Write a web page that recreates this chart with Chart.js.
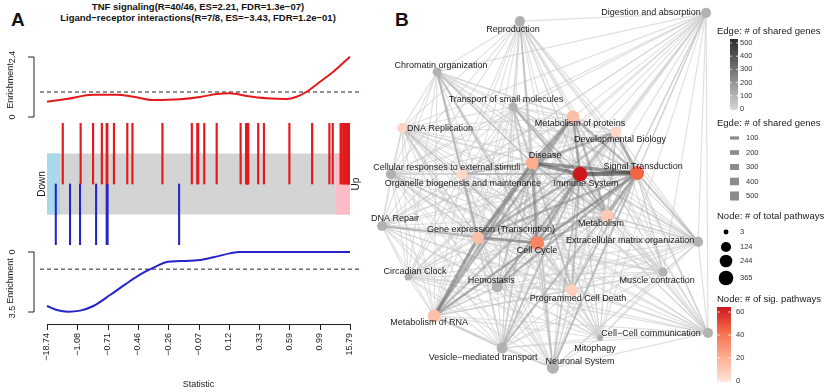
<!DOCTYPE html>
<html>
<head>
<meta charset="utf-8">
<script src="https://cdn.jsdelivr.net/npm/chart.js@4.4.1/dist/chart.umd.min.js"></script>
<style>
    body { margin: 0; background: #fff; width: 824px; height: 392px; position: relative; overflow: hidden; font-family: "Liberation Sans", Arial, sans-serif; }
    canvas, .txt { position: absolute; }
    .txt { white-space: nowrap; color: #111; }
    .tag { font-size: 19px; font-weight: bold; line-height: 19px; }
    .title { left: 0; width: 396px; text-align: center; font-size: 9.5px; font-weight: bold; line-height: 11px; }
</style>
</head>
<body>
<div class="txt tag" style="left:11px; top:10px;">A</div>
<div class="txt tag" style="left:395px; top:10px;">B</div>
<div class="txt title" style="top:1px;">TNF signaling(R=40/46, ES=2.21, FDR=1.3e−07)</div>
<div class="txt title" style="top:12px;">Ligand−receptor interactions(R=7/8, ES=−3.43, FDR=1.2e−01)</div>
<canvas id="up-es" width="370" height="85" style="left:0; top:45px;"></canvas>
<canvas id="hits" width="370" height="132" style="left:0; top:118px;"></canvas>
<canvas id="down-es" width="370" height="147" style="left:0; top:245px;"></canvas>
<canvas id="network" width="454" height="392" style="left:370px; top:0;"></canvas>
<script>
//---------- panel A data ----------
//quantile labels of the statistic, spread evenly over the rank axis (0..10)
const statTicks = ["−18.74", "−1.08", "−0.71", "−0.46", "−0.26", "−0.07", "0.12", "0.33", "0.59", "0.99", "15.79"];

//running enrichment, TNF signaling (up)
const upRank = [0, 0.65, 1.53, 2.30, 2.85, 3.51, 4.39, 5.05, 5.60, 6.04, 6.59, 7.25, 7.91, 8.24, 8.57, 9.01, 9.45, 10];
const upES = [0.61, 0.72, 0.89, 0.89, 0.81, 0.68, 0.71, 0.80, 0.92, 0.95, 0.84, 0.75, 0.72, 0.81, 1.01, 1.41, 1.81, 2.41];

//running enrichment, ligand-receptor interactions (down), plotted on a flipped axis
const downRank = [0, 0.32, 0.70, 1.09, 1.53, 2.08, 2.63, 3.18, 3.62, 3.95, 4.39, 5.05, 5.49, 6.04, 6.37, 10];
const downES = [3.15, 3.38, 3.48, 3.42, 3.15, 2.51, 1.83, 1.21, 0.82, 0.58, 0.53, 0.47, 0.31, 0.08, 0, 0];

//rank positions of the member genes
const upHits = [0.52, 1.11, 1.52, 1.81, 1.97, 1.99, 2.21, 2.65, 2.82, 3.81, 4.78, 4.96, 4.99, 5.19, 5.60, 6.39, 6.57, 6.59, 6.61, 6.62,
    6.64, 6.97, 7.16, 8.00, 8.75, 9.32, 9.43, 9.69, 9.72, 9.78, 9.80, 9.83, 9.86, 9.89, 9.91, 9.93, 9.95, 9.97, 9.98, 9.99];
const downHits = [0.29, 0.76, 1.09, 1.62, 1.97, 2.00, 4.36];

const downZone = [0, 0.43];
const upZone = [9.54, 10];
const esCutoff = 1;
const upTicks = [0, 2.4];
const downTicks = [0, 3.5];

//---------- panel B data ----------
const pathways = ["Reproduction", "Digestion and absorption", "Chromatin organization", "Transport of small molecules",
    "Metabolism of proteins", "DNA Replication", "Developmental Biology", "Disease", "Cellular responses to external stimuli",
    "Signal Transduction", "Immune System", "Organelle biogenesis and maintenance", "DNA Repair", "Gene expression (Transcription)",
    "Cell Cycle", "Metabolism", "Extracellular matrix organization", "Circadian Clock", "Hemostasis", "Muscle contraction",
    "Programmed Cell Death", "Metabolism of RNA", "Cell−Cell communication", "Mitophagy", "Vesicle−mediated transport", "Neuronal System"];
const nodeX = [42.4, 98.8, 17.3, 40.3, 58.5, 6.7, 71.5, 46.1, 24.8, 77.9, 60.6, 3.3, 0.6, 29.7, 47.6, 68.8, 96.4, 8.5, 35.5, 85.8, 58.2, 16.4, 99.4, 66.7, 37.0, 52.4];
const nodeY = [96.9, 99.2, 82.8, 73.1, 70.3, 67.2, 66.1, 57.5, 54.4, 54.7, 54.4, 54.4, 40.0, 36.7, 35.3, 42.8, 35.6, 25.8, 23.1, 27.2, 22.2, 15.0, 10.3, 8.9, 6.1, 0.6];
const totalPathways = [120, 120, 80, 80, 260, 120, 160, 260, 160, 325, 365, 120, 120, 210, 325, 260, 120, 30, 160, 80, 210, 260, 120, 13, 160, 210];
const sigPathways = [null, null, null, null, 14, 6, 5, 20, 5, 42, 60, null, null, 14, 33, 10, null, null, null, null, 8, 13, null, null, null, null];

//strong links (# of shared genes); every other pair shares a few genes
const edgeFrom = ["Immune System", "Immune System", "Signal Transduction", "Immune System", "Disease", "Gene expression (Transcription)",
    "Gene expression (Transcription)", "Disease", "Immune System", "Immune System", "Disease", "Signal Transduction", "Signal Transduction",
    "Immune System", "Metabolism of proteins", "Immune System", "Signal Transduction", "Disease", "Cell Cycle", "Disease", "Immune System",
    "Signal Transduction", "Signal Transduction", "Immune System", "Signal Transduction", "Hemostasis", "Immune System", "Signal Transduction",
    "Disease", "Cell Cycle", "Immune System", "Signal Transduction", "Metabolism of RNA", "Disease", "Immune System", "Signal Transduction",
    "Cell Cycle", "Disease", "Immune System", "Gene expression (Transcription)", "Immune System", "Metabolism", "Disease",
    "Chromatin organization", "Chromatin organization", "Chromatin organization", "DNA Repair", "DNA Repair", "Organelle biogenesis and maintenance",
    "Organelle biogenesis and maintenance", "Metabolism of proteins", "Developmental Biology", "Disease", "Metabolism of RNA", "Signal Transduction",
    "Immune System", "Reproduction", "Reproduction", "Hemostasis", "Hemostasis", "Muscle contraction", "Metabolism", "Metabolism",
    "DNA Replication", "DNA Replication", "Neuronal System", "Cell−Cell communication", "Hemostasis", "Developmental Biology", "Programmed Cell Death",
    "Reproduction", "Reproduction", "Transport of small molecules", "Transport of small molecules", "Cellular responses to external stimuli", "Metabolism of RNA",
    "Vesicle−mediated transport", "Neuronal System", "Extracellular matrix organization", "Circadian Clock", "Digestion and absorption", "Digestion and absorption"];
const edgeTo = ["Signal Transduction", "Disease", "Disease", "Cell Cycle", "Cell Cycle", "Cell Cycle",
    "Metabolism of RNA", "Gene expression (Transcription)", "Gene expression (Transcription)", "Metabolism of proteins", "Metabolism of proteins", "Metabolism of proteins", "Developmental Biology",
    "Developmental Biology", "Metabolism", "Metabolism", "Metabolism", "Metabolism", "Metabolism of RNA", "Metabolism of RNA", "Metabolism of RNA",
    "Cell Cycle", "Gene expression (Transcription)", "Hemostasis", "Hemostasis", "Metabolism of RNA", "Programmed Cell Death", "Programmed Cell Death",
    "Programmed Cell Death", "Programmed Cell Death", "Vesicle−mediated transport", "Vesicle−mediated transport", "Vesicle−mediated transport", "Vesicle−mediated transport", "Neuronal System", "Neuronal System",
    "Neuronal System", "Cellular responses to external stimuli", "Cellular responses to external stimuli", "Cellular responses to external stimuli", "Transport of small molecules", "Transport of small molecules", "Transport of small molecules",
    "Gene expression (Transcription)", "Cell Cycle", "Disease", "Cell Cycle", "Gene expression (Transcription)", "Cell Cycle",
    "Gene expression (Transcription)", "Gene expression (Transcription)", "Gene expression (Transcription)", "Developmental Biology", "Metabolism of proteins", "Extracellular matrix organization",
    "Extracellular matrix organization", "Cell Cycle", "Disease", "Disease", "Cell Cycle", "Signal Transduction", "Cell Cycle", "Gene expression (Transcription)",
    "Cell Cycle", "Gene expression (Transcription)", "Vesicle−mediated transport", "Signal Transduction", "Gene expression (Transcription)", "Metabolism", "Metabolism of RNA",
    "Signal Transduction", "Immune System", "Signal Transduction", "Cell Cycle", "Signal Transduction", "Signal Transduction",
    "Cell Cycle", "Disease", "Metabolism", "Gene expression (Transcription)", "Signal Transduction", "Metabolism"];
const sharedGenes = [500, 380, 360, 260, 260, 280, 320, 300, 220, 260, 260, 220, 260, 160, 220, 220, 220, 160, 220, 220, 160,
    260, 220, 220, 220, 110, 160, 160, 130, 110, 160, 160, 130, 110, 130, 160, 90, 160, 110, 110, 130, 160, 110,
    160, 130, 110, 160, 110, 110, 90, 220, 160, 220, 220, 160, 110, 90, 90, 130, 90, 90, 160, 110, 130, 90, 90, 70, 90, 120, 70,
    70, 70, 90, 90, 90, 110, 90, 90, 70, 60, 60, 60];
const otherSharedGenes = 35;

//legend keys
const edgeColorKeys = [0, 100, 200, 300, 400, 500];
const edgeWidthKeys = [100, 200, 300, 400, 500];
const nodeSizeKeys = [3, 124, 244, 365];
const sigKeys = [0, 20, 40, 60];

//---------- styles ----------
Chart.defaults.font.family = '"Liberation Sans", Arial, sans-serif';
Chart.defaults.animation = false;
Chart.defaults.events = [];
Chart.defaults.plugins.legend.display = false;
Chart.defaults.plugins.tooltip.enabled = false;

const red = "#e3191c";
const blue = "#2424c8";
const textColor = "#1a1a1a";
const sigStops = [[0, [254, 229, 217]], [20, [252, 174, 145]], [40, [246, 110, 76]], [60, [203, 24, 29]]];

const toPoints = (xs, ys) => xs.map((x, i) => ({ x: x, y: ys[i] }));

const sigColor = (v) => {
    if (v === null) return "#b2b2b2";
    for (let i = 1; i < sigStops.length; i++) {
        if (v <= sigStops[i][0]) {
            const [v0, c0] = sigStops[i - 1];
            const [v1, c1] = sigStops[i];
            const t = (v - v0) / (v1 - v0);
            const c = c0.map((c, k) => Math.round(c + (c1[k] - c) * t));
            return "rgb(" + c.join(",") + ")";
        }
    }
    return "rgb(203,24,29)";
};
const nodeRadius = (n) => 2 + 5.3 * Math.sqrt(n / 365);
const edgeGray = (g) => Math.round(215 - g / 500 * 165);
const edgeColor = (g) => { const c = edgeGray(g); return "rgba(" + c + "," + c + "," + c + ",0.6)"; };
const edgeWidth = (g) => 0.9 + g / 500 * 3.6;

const rotatedText = (ctx, text, x, y, align) => {
    ctx.save();
    ctx.translate(x, y);
    ctx.rotate(-Math.PI / 2);
    ctx.textAlign = align;
    ctx.textBaseline = "middle";
    ctx.fillText(text, 0, 0);
    ctx.restore();
};

//R style bracket axis with rotated labels
const enrichmentAxis = (ticks) => ({
    id: "enrichmentAxis",
    afterDraw(chart) {
        const ctx = chart.ctx;
        const yScale = chart.scales.y;
        const ax = chart.chartArea.left - 13;
        const pix = ticks.map((t) => yScale.getPixelForValue(t));
        ctx.save();
        ctx.strokeStyle = "#222";
        ctx.lineWidth = 1;
        ctx.beginPath();
        ctx.moveTo(ax - 6, pix[0]);
        ctx.lineTo(ax, pix[0]);
        ctx.lineTo(ax, pix[1]);
        ctx.lineTo(ax - 6, pix[1]);
        ctx.stroke();
        ctx.fillStyle = textColor;
        ctx.font = '9px "Liberation Sans", Arial, sans-serif';
        ticks.forEach((t, i) => rotatedText(ctx, String(t), ax - 21, pix[i], "center"));
        rotatedText(ctx, "Enrichment", ax - 23, (pix[0] + pix[1]) / 2 - 1, "center");
        ctx.restore();
    }
});

const cutoffLine = {
    data: [{ x: -0.23, y: esCutoff }, { x: 10.4, y: esCutoff }],
    showLine: true,
    borderColor: "#222",
    borderWidth: 1,
    borderDash: [4, 3],
    pointRadius: 0,
    clip: false,
};

const hiddenRank = { type: "linear", min: 0, max: 10, display: false };

//---------- panel A: up enrichment ----------
new Chart(document.getElementById("up-es"), {
    type: "scatter",
    data: {
        datasets: [
            {
                data: toPoints(upRank, upES),
                showLine: true,
                borderColor: red,
                borderWidth: 2,
                pointRadius: 0,
                cubicInterpolationMode: "monotone",
                clip: false,
            },
            cutoffLine,
        ],
    },
    options: {
        responsive: false,
        layout: { padding: { left: 47, right: 20, top: 12, bottom: 13 } },
        scales: {
            x: hiddenRank,
            y: { min: upTicks[0], max: upTicks[1], display: false },
        },
    },
    plugins: [enrichmentAxis(upTicks)],
});

//---------- panel A: gene hits barcode ----------
new Chart(document.getElementById("hits"), {
    type: "bar",
    data: {
        datasets: [
            {
                data: upHits.map((x) => ({ x: x, y: [0, 1] })),
                backgroundColor: red,
                barThickness: 1.5,
                grouped: false,
                order: 0,
            },
            {
                data: downHits.map((x) => ({ x: x, y: [-1, 0] })),
                backgroundColor: blue,
                barThickness: 1.4,
                grouped: false,
                order: 0,
            },
            {
                type: "line",
                data: [{ x: downZone[0], y: 0.5 }, { x: downZone[1], y: 0.5 }],
                fill: { value: -0.5 },
                backgroundColor: "#a9d8ea",
                borderColor: "transparent",
                borderWidth: 0,
                pointRadius: 0,
                order: 1,
            },
            {
                type: "line",
                data: [{ x: upZone[0], y: 0.5 }, { x: upZone[1], y: 0.5 }],
                fill: { value: -0.5 },
                backgroundColor: "#ffbcc6",
                borderColor: "transparent",
                borderWidth: 0,
                pointRadius: 0,
                order: 1,
            },
            {
                type: "line",
                data: [{ x: 0, y: 0.5 }, { x: 10, y: 0.5 }],
                fill: { value: -0.5 },
                backgroundColor: "#d4d4d4",
                borderColor: "transparent",
                borderWidth: 0,
                pointRadius: 0,
                order: 2,
            },
        ],
    },
    options: {
        responsive: false,
        layout: { padding: { left: 47, right: 20, top: 5, bottom: 5 } },
        scales: {
            x: { type: "linear", min: 0, max: 10, display: false, offset: false },
            y: { min: -1, max: 1, display: false },
        },
    },
    plugins: [{
        id: "sideLabels",
        afterDraw(chart) {
            const ctx = chart.ctx;
            const yMid = chart.scales.y.getPixelForValue(0);
            ctx.save();
            ctx.fillStyle = textColor;
            ctx.font = '10px "Liberation Sans", Arial, sans-serif';
            rotatedText(ctx, "Down", chart.chartArea.left - 5, yMid, "center");
            rotatedText(ctx, "Up", chart.chartArea.right + 6, yMid, "center");
            ctx.restore();
        }
    }],
});

//---------- panel A: down enrichment + statistic axis ----------
new Chart(document.getElementById("down-es"), {
    type: "scatter",
    data: {
        datasets: [
            {
                data: toPoints(downRank, downES),
                showLine: true,
                borderColor: blue,
                borderWidth: 2,
                pointRadius: 0,
                cubicInterpolationMode: "monotone",
                clip: false,
            },
            cutoffLine,
        ],
    },
    options: {
        responsive: false,
        layout: { padding: { left: 47, right: 20, top: 7, bottom: 80 } },
        scales: {
            x: hiddenRank,
            y: { min: downTicks[0], max: downTicks[1], reverse: true, display: false },
        },
    },
    plugins: [enrichmentAxis(downTicks), {
        id: "statAxis",
        afterDraw(chart) {
            const ctx = chart.ctx;
            const xScale = chart.scales.x;
            const ay = chart.chartArea.bottom + 12;
            ctx.save();
            ctx.strokeStyle = "#222";
            ctx.lineWidth = 1;
            ctx.beginPath();
            ctx.moveTo(xScale.getPixelForValue(0), ay + 0.5);
            ctx.lineTo(xScale.getPixelForValue(statTicks.length - 1), ay + 0.5);
            statTicks.forEach((t, i) => {
                const px = Math.round(xScale.getPixelForValue(i)) + 0.5;
                ctx.moveTo(px, ay);
                ctx.lineTo(px, ay + 6);
            });
            ctx.stroke();
            ctx.fillStyle = textColor;
            ctx.font = '9px "Liberation Sans", Arial, sans-serif';
            statTicks.forEach((t, i) => rotatedText(ctx, t, xScale.getPixelForValue(i), ay + 9, "right"));
            ctx.textAlign = "center";
            ctx.textBaseline = "middle";
            ctx.fillText("Statistic", (chart.chartArea.left + chart.chartArea.right) / 2, chart.height - 7);
            ctx.restore();
        }
    }],
});

//---------- panel B: pathway network ----------
const labelDx = [-7, -55, 4, -7, 7, 38, 4, 13, -15, 6, 6, 72, 13, 13, 0, -6, -68, 7, -6, -6, 6, -5, -57, -5, -19, 27];
const labelDy = [8, 0, -6, -7, 7, 0, 7, -7, -7, -7, 9, 9, -7, -8, 8, 8, -1, -6, -6, 8, 8, 7, 1, 11, 9, -6];

const pairKey = (a, b) => (a < b ? a + "|" + b : b + "|" + a);
const strongPairs = new Map();
edgeFrom.forEach((a, i) => strongPairs.set(pairKey(a, edgeTo[i]), sharedGenes[i]));

const edges = [];
for (let i = 0; i < pathways.length; i++) {
    for (let j = i + 1; j < pathways.length; j++) {
        const g = strongPairs.get(pairKey(pathways[i], pathways[j]));
        edges.push({ a: i, b: j, genes: g === undefined ? otherSharedGenes : g });
    }
}
//heavier edges drawn last
edges.sort((e1, e2) => e2.genes - e1.genes);

const edgeSets = edges.map((e) => ({
    data: [{ x: nodeX[e.a], y: nodeY[e.a] }, { x: nodeX[e.b], y: nodeY[e.b] }],
    showLine: true,
    borderColor: edgeColor(e.genes),
    borderWidth: edgeWidth(e.genes),
    pointRadius: 0,
    order: 1,
    clip: false,
}));

const nodeSet = {
    data: toPoints(nodeX, nodeY),
    pointRadius: totalPathways.map(nodeRadius),
    pointBackgroundColor: sigPathways.map(sigColor),
    pointBorderColor: "transparent",
    pointBorderWidth: 0,
    order: 0,
    clip: false,
};

const legendFont = (size) => size + 'px "Liberation Sans", Arial, sans-serif';

new Chart(document.getElementById("network"), {
    type: "scatter",
    data: { datasets: [nodeSet, ...edgeSets] },
    options: {
        responsive: false,
        layout: { padding: { left: 10, right: 114, top: 10, bottom: 22 } },
        scales: {
            x: { min: 0, max: 100, display: false },
            y: { min: 0, max: 100, display: false },
        },
    },
    plugins: [{
        id: "nodeLabels",
        afterDatasetsDraw(chart) {
            const ctx = chart.ctx;
            const xs = chart.scales.x;
            const ys = chart.scales.y;
            ctx.save();
            ctx.fillStyle = textColor;
            ctx.font = legendFont(9);
            ctx.textAlign = "center";
            ctx.textBaseline = "middle";
            pathways.forEach((p, i) => {
                ctx.fillText(p, xs.getPixelForValue(nodeX[i]) + labelDx[i], ys.getPixelForValue(nodeY[i]) + labelDy[i]);
            });
            ctx.restore();
        }
    }, {
        id: "networkLegend",
        afterDraw(chart) {
            const ctx = chart.ctx;
            const lx = 347;
            ctx.save();
            ctx.textBaseline = "middle";
            ctx.textAlign = "left";

            //edge colour bar
            ctx.fillStyle = textColor;
            ctx.font = legendFont(9.5);
            ctx.fillText("Edge: # of shared genes", lx, 31);
            const eTop = 39, eBottom = 110;
            const eg = ctx.createLinearGradient(0, eBottom, 0, eTop);
            eg.addColorStop(0, "rgb(" + [edgeGray(0), edgeGray(0), edgeGray(0)].join(",") + ")");
            eg.addColorStop(1, "rgb(" + [edgeGray(520), edgeGray(520), edgeGray(520)].join(",") + ")");
            ctx.fillStyle = eg;
            ctx.fillRect(360, eTop, 8, eBottom - eTop);
            ctx.font = legendFont(7.5);
            edgeColorKeys.forEach((v) => {
                const y = 109 - v / 500 * 66;
                ctx.fillStyle = "rgba(255,255,255,0.7)";
                ctx.fillRect(360, y - 0.5, 2, 1);
                ctx.fillRect(366, y - 0.5, 2, 1);
                ctx.fillStyle = "#333";
                ctx.fillText(String(v), 370, y);
            });

            //edge width keys
            ctx.fillStyle = textColor;
            ctx.font = legendFont(9.5);
            ctx.fillText("Egde: # of shared genes", lx, 123);
            ctx.font = legendFont(7.5);
            edgeWidthKeys.forEach((v, i) => {
                const y = 138 + i * 14.5;
                const h = edgeWidth(v) * 2;
                ctx.fillStyle = "#8c8c8c";
                ctx.fillRect(360, y - h / 2, 9, h);
                ctx.fillStyle = "#333";
                ctx.fillText(String(v), 376, y);
            });

            //node size keys
            ctx.fillStyle = textColor;
            ctx.font = legendFont(9.5);
            ctx.fillText("Node: # of total pathways", lx, 216);
            ctx.font = legendFont(7.5);
            const sizeY = [232, 247, 261, 278];
            nodeSizeKeys.forEach((v, i) => {
                ctx.fillStyle = "#000";
                ctx.beginPath();
                ctx.arc(356, sizeY[i], nodeRadius(v), 0, Math.PI * 2);
                ctx.fill();
                ctx.fillStyle = "#333";
                ctx.fillText(String(v), 370, sizeY[i]);
            });

            //significant pathways colour bar
            ctx.fillStyle = textColor;
            ctx.font = legendFont(9.5);
            ctx.fillText("Node: # of sig. pathways", lx, 299);
            const sTop = 307, sBottom = 382;
            const sg = ctx.createLinearGradient(0, sBottom, 0, sTop);
            sigStops.forEach(([v, c]) => sg.addColorStop(v / 60, "rgb(" + c.join(",") + ")"));
            ctx.fillStyle = sg;
            ctx.fillRect(347, sTop, 14, sBottom - sTop);
            ctx.font = legendFont(7.5);
            sigKeys.forEach((v) => {
                const y = 381 - v / 60 * 69;
                ctx.fillStyle = "rgba(255,255,255,0.7)";
                ctx.fillRect(347, y - 0.5, 3, 1);
                ctx.fillRect(358, y - 0.5, 3, 1);
                ctx.fillStyle = "#333";
                ctx.fillText(String(v), 366, y);
            });
            ctx.restore();
        }
    }],
});
</script>
</body>
</html>
